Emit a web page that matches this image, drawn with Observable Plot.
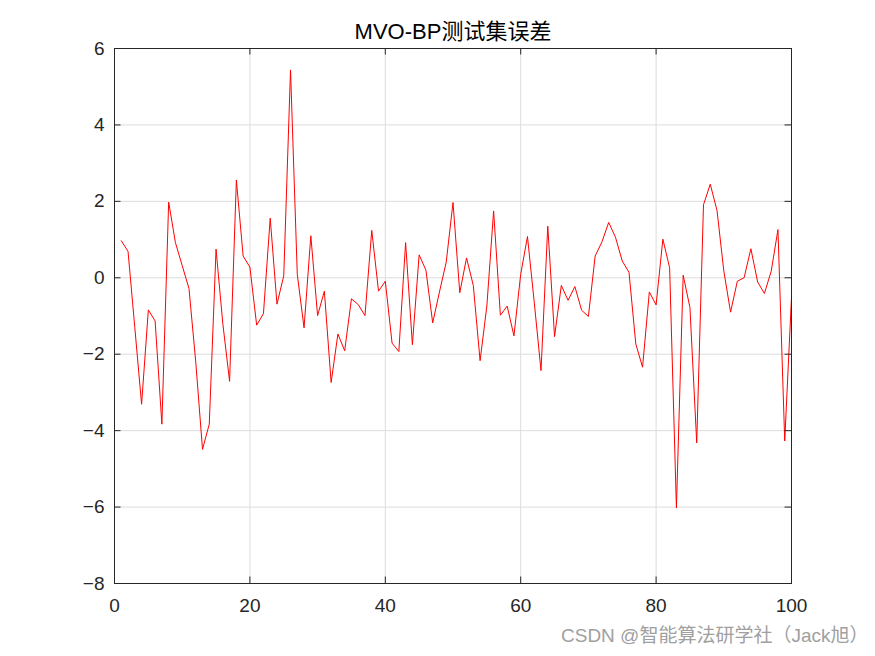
<!DOCTYPE html>
<html><head><meta charset="utf-8">
<script src="https://cdn.jsdelivr.net/npm/d3@7"></script>
<script src="https://cdn.jsdelivr.net/npm/@observablehq/plot@0.6"></script>
<style>
body{margin:0;background:#fff}
#c{position:relative;width:875px;height:656px}
.wm{position:absolute;left:561px;top:625px;font-size:19px;font-family:"Liberation Sans","Noto Sans CJK SC",sans-serif;color:#a0a0a0;white-space:nowrap;line-height:22px}
</style>
</head><body><div id="c"></div>
<script>
const title = "MVO-BP测试集误差";
const watermark = "CSDN @智能算法研学社（Jack旭）";
const sampleIndex = d3.range(1, 101);
const errors = [
  0.97, 0.69, -1.3, -3.31, -0.84, -1.13, -3.83, 1.98, 0.92, 0.32,
  -0.28, -2.2, -4.49, -3.83, 0.75, -1.2, -2.71, 2.56, 0.57, 0.28,
  -1.24, -0.94, 1.56, -0.69, 0.05, 5.44, 0.09, -1.31, 1.10, -0.99,
  -0.35, -2.74, -1.47, -1.91, -0.55, -0.7, -0.99, 1.24, -0.35, -0.09,
  -1.71, -1.93, 0.92, -1.75, 0.60, 0.20, -1.18, -0.37, 0.41, 1.97,
  -0.39, 0.52, -0.20, -2.17, -0.74, 1.75, -0.98, -0.74, -1.52, 0.09,
  1.08, -0.64, -2.43, 1.35, -1.54, -0.20, -0.59, -0.23, -0.85, -1.01,
  0.57, 0.94, 1.45, 1.06, 0.44, 0.14, -1.73, -2.34, -0.37, -0.71,
  1.01, 0.26, -6.02, 0.07, -0.78, -4.32, 1.91, 2.45, 1.76, 0.18,
  -0.90, -0.09, 0.0, 0.76, -0.11, -0.41, 0.17, 1.26, -4.27, -0.51
];
const xTicks = [0, 20, 40, 60, 80, 100];
const yTicks = [-8, -6, -4, -2, 0, 2, 4, 6];

const W = 875, H = 656, mT = 48, mB = 73, mL = 114, mR = 84;
const fw = W - mL - mR, fh = H - mT - mB, tl = 6.5;
const font = '"Liberation Sans", Arial, "Noto Sans CJK SC", sans-serif';
const ink = "#262626";

const chart = Plot.plot({
  width: W, height: H,
  marginTop: mT, marginBottom: mB, marginLeft: mL, marginRight: mR,
  style: {fontFamily: font, fontSize: "19px", color: ink, background: "white"},
  x: {domain: [0, 100]},
  y: {domain: [-8, 6]},
  marks: [
    Plot.gridX(xTicks, {stroke: "#dcdcdc", strokeOpacity: 1}),
    Plot.gridY(yTicks, {stroke: "#dcdcdc", strokeOpacity: 1}),
    Plot.line(errors, {x: (d, i) => sampleIndex[i], y: d => d, stroke: "red", strokeWidth: 1}),
    Plot.tickX(xTicks, {x: d => d, insetTop: fh - tl, stroke: ink}),
    Plot.tickX(xTicks, {x: d => d, insetBottom: fh - tl, stroke: ink}),
    Plot.tickY(yTicks, {y: d => d, insetRight: fw - tl, stroke: ink}),
    Plot.tickY(yTicks, {y: d => d, insetLeft: fw - tl, stroke: ink}),
    Plot.frame({stroke: ink}),
    Plot.axisX({ticks: xTicks, tickSize: 0, tickPadding: 15, label: null, fontSize: 19}),
    Plot.axisY({ticks: yTicks, tickSize: 0, tickPadding: 10, label: null, fontSize: 19}),
    Plot.text([title], {frameAnchor: "top", lineAnchor: "middle", dy: -17, text: d => d, fontSize: 22, fill: "black"})
  ]
});
const c = document.getElementById("c");
c.appendChild(chart);
const wm = document.createElement("div");
wm.className = "wm";
wm.textContent = watermark;
c.appendChild(wm);
</script>
</body></html>
